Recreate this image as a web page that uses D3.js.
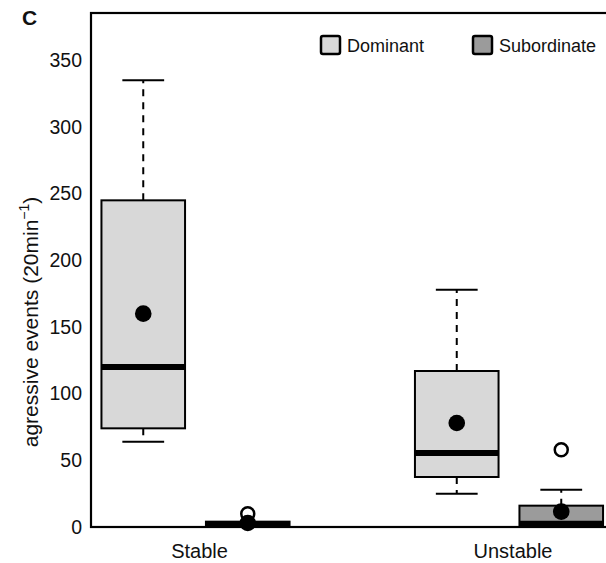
<!DOCTYPE html>
<html>
<head>
<meta charset="utf-8">
<script src="https://cdn.jsdelivr.net/npm/d3@7/dist/d3.min.js"></script>
<style>
  body { margin: 0; background: #fff; }
  svg text { font-family: "Liberation Sans", Arial, sans-serif; fill: #111; }
</style>
</head>
<body>
<div id="chart"></div>
<script>
// box statistics, one entry per box: Stable/Dominant, Stable/Subordinate, Unstable/Dominant, Unstable/Subordinate
var groups = ["Stable", "Unstable"];
var series = ["Dominant", "Subordinate"];
var boxPos = [1, 2, 4, 5];
var boxSeries = [0, 1, 0, 1];
var lowerWhisker = [64, 0, 25, 0];
var q1 = [74, 0, 37.5, 0];
var median = [120, 2, 55.5, 2.5];
var q3 = [245, 4, 117, 16];
var upperWhisker = [335, 4, 178, 28];
var means = [160, 3, 78, 11.5];
var outliers = [[], [10], [], [58]];
var yTicks = [0, 50, 100, 150, 200, 250, 300, 350];
var seriesFill = ["#d8d8d8", "#9b9b9b"];

var w = 606, h = 563;
var svg = d3.select("#chart").append("svg").attr("width", w).attr("height", h);

var x = d3.scaleLinear().domain([0.5, 5.5]).range([91, 613.5]);
var y = d3.scaleLinear().domain([0, 385.5]).range([527, 13]);

// frame
svg.append("rect")
  .attr("x", x(0.5)).attr("y", y(385.5))
  .attr("width", x(5.5) - x(0.5)).attr("height", y(0) - y(385.5))
  .attr("fill", "none").attr("stroke", "#000").attr("stroke-width", 2.2);

// y axis labels (no tick marks)
var yAxis = svg.append("g")
  .attr("transform", "translate(" + x(0.5) + ",0)")
  .call(d3.axisLeft(y).tickValues(yTicks).tickSize(0).tickPadding(9));
yAxis.select(".domain").remove();
yAxis.selectAll("text").attr("font-size", 19.5).attr("fill", "#111")
  .style("font-family", "Liberation Sans, Arial, sans-serif");

var data = boxPos.map(function (p, i) {
  return { pos: p, s: boxSeries[i], lo: lowerWhisker[i], q1: q1[i], med: median[i],
           q3: q3[i], hi: upperWhisker[i], mean: means[i], out: outliers[i] };
});

var bw = 0.8, cw = 0.4;
var g = svg.selectAll("g.box").data(data).enter().append("g").attr("class", "box");

// whiskers
g.append("line")
  .attr("x1", function (d) { return x(d.pos); }).attr("x2", function (d) { return x(d.pos); })
  .attr("y1", function (d) { return y(d.q3); }).attr("y2", function (d) { return y(d.hi); })
  .attr("stroke", "#000").attr("stroke-width", 2).attr("stroke-dasharray", "7,6");
g.append("line")
  .attr("x1", function (d) { return x(d.pos); }).attr("x2", function (d) { return x(d.pos); })
  .attr("y1", function (d) { return y(d.q1); }).attr("y2", function (d) { return y(d.lo); })
  .attr("stroke", "#000").attr("stroke-width", 2).attr("stroke-dasharray", "7,6");
["hi", "lo"].forEach(function (k) {
  g.filter(function (d) { return k === "hi" ? d.hi > d.q3 : d.lo < d.q1; })
    .append("line")
    .attr("x1", function (d) { return x(d.pos - cw / 2); }).attr("x2", function (d) { return x(d.pos + cw / 2); })
    .attr("y1", function (d) { return y(d[k]); }).attr("y2", function (d) { return y(d[k]); })
    .attr("stroke", "#000").attr("stroke-width", 2);
});

// boxes
g.append("rect")
  .attr("x", function (d) { return x(d.pos - bw / 2); })
  .attr("width", x(bw) - x(0))
  .attr("y", function (d) { return y(d.q3); })
  .attr("height", function (d) { return y(d.q1) - y(d.q3); })
  .attr("fill", function (d) { return seriesFill[d.s]; })
  .attr("stroke", "#000").attr("stroke-width", 2);

// medians
g.append("line")
  .attr("x1", function (d) { return x(d.pos - bw / 2); }).attr("x2", function (d) { return x(d.pos + bw / 2); })
  .attr("y1", function (d) { return y(d.med); }).attr("y2", function (d) { return y(d.med); })
  .attr("stroke", "#000").attr("stroke-width", 6);

// outliers
g.selectAll("circle.out").data(function (d) { return d.out.map(function (v) { return { pos: d.pos, v: v }; }); })
  .enter().append("circle").attr("class", "out")
  .attr("cx", function (d) { return x(d.pos); }).attr("cy", function (d) { return y(d.v); })
  .attr("r", 6.5).attr("fill", "#fff").attr("stroke", "#000").attr("stroke-width", 2.5);

// means
g.append("circle")
  .attr("cx", function (d) { return x(d.pos); }).attr("cy", function (d) { return y(d.mean); })
  .attr("r", 8.3).attr("fill", "#000");

// group labels
svg.selectAll("text.grp").data(groups).enter().append("text").attr("class", "grp")
  .attr("x", function (d, i) { return x(i * 3 + 1.5) + 4; }).attr("y", 558)
  .attr("text-anchor", "middle").attr("font-size", 20).text(function (d) { return d; });

// y label
var yl = svg.append("text")
  .attr("transform", "translate(38,322) rotate(-90)")
  .attr("text-anchor", "middle").attr("font-size", 21);
yl.append("tspan").text("agressive events (20min");
yl.append("tspan").attr("font-size", 14).attr("dy", -9).text("\u22121");
yl.append("tspan").attr("dy", 9).text(")");

// panel letter
svg.append("text").attr("x", 22).attr("y", 25).attr("font-size", 21).attr("font-weight", "bold").text("C");

// legend
var legX = [321, 473];
var leg = svg.selectAll("g.leg").data(series).enter().append("g").attr("class", "leg")
  .attr("transform", function (d, i) { return "translate(" + legX[i] + ",36)"; });
leg.append("rect").attr("width", 19).attr("height", 18).attr("rx", 2)
  .attr("fill", function (d, i) { return seriesFill[i]; })
  .attr("stroke", "#000").attr("stroke-width", 2.5);
leg.append("text").attr("x", 26).attr("y", 16).attr("font-size", 18).text(function (d) { return d; });
</script>
</body>
</html>
